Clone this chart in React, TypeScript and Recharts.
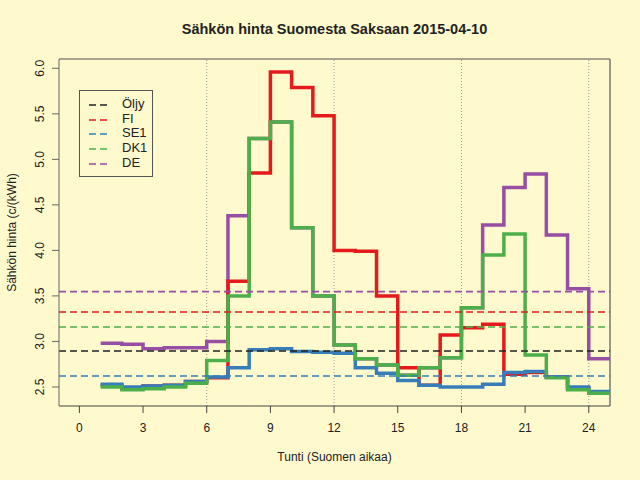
import React from "react";
import {
  Line,
  LineChart,
  ReferenceLine,
  XAxis,
  YAxis,
} from "recharts";

// hours 1..24, each value holds for [h, h+1); last one repeated at 25 to close the step
const HOURS = [1, 2, 3, 4, 5, 6, 7, 8, 9, 10, 11, 12, 13, 14, 15, 16, 17, 18, 19, 20, 21, 22, 23, 24, 25];
const FI = [2.52, 2.49, 2.51, 2.52, 2.56, 2.6, 3.66, 4.85, 5.96, 5.79, 5.48, 4.0, 3.99, 3.5, 2.71, 2.52, 3.07, 3.15, 3.19, 2.64, 2.66, 2.61, 2.49, 2.44, 2.44];
const SE1 = [2.53, 2.5, 2.51, 2.52, 2.56, 2.61, 2.71, 2.91, 2.92, 2.89, 2.88, 2.87, 2.71, 2.65, 2.57, 2.52, 2.5, 2.5, 2.53, 2.66, 2.67, 2.61, 2.5, 2.45, 2.45];
const DK1 = [2.5, 2.47, 2.48, 2.5, 2.54, 2.79, 3.5, 5.23, 5.41, 4.25, 3.5, 2.96, 2.81, 2.74, 2.63, 2.71, 2.82, 3.37, 3.95, 4.18, 2.85, 2.6, 2.47, 2.43, 2.43];
const DE = [2.98, 2.97, 2.92, 2.93, 2.93, 3.0, 4.38, 5.23, 5.41, 4.25, 3.5, 2.96, 2.81, 2.74, 2.63, 2.71, 2.82, 3.37, 4.28, 4.69, 4.84, 4.17, 3.58, 2.81, 2.81];

// daily averages (dashed lines)
const AVG_NAMES = ["Öljy", "FI", "SE1", "DK1", "DE"];
const AVG_VALUES = [2.895, 3.324, 2.621, 3.159, 3.547];
const COLORS = ["#222222", "#e41a1c", "#377eb8", "#4daf4a", "#984ea3"];

const X_TICKS = [0, 3, 6, 9, 12, 15, 18, 21, 24];
const Y_TICKS = [2.5, 3.0, 3.5, 4.0, 4.5, 5.0, 5.5, 6.0];
const V_LINES = [6, 12, 18, 24];

const FONT = "'Liberation Sans', Arial, Helvetica, sans-serif";
const BG = "#fffacd";

const data = HOURS.map((h, i) => ({
  hour: h,
  FI: FI[i],
  SE1: SE1[i],
  DK1: DK1[i],
  DE: DE[i],
}));

const YTick = (props: any) => {
  const { y, payload } = props;
  return (
    <text
      x={0}
      y={0}
      transform={`translate(44,${y}) rotate(-90)`}
      textAnchor="middle"
      fontSize={12}
      fill="#222"
      fontFamily={FONT}
    >
      {Number(payload.value).toFixed(1)}
    </text>
  );
};

const LegendBox = () => (
  <div
    style={{
      position: "absolute",
      left: 79,
      top: 90,
      width: 74,
      height: 87,
      border: "1px solid #555",
      boxSizing: "border-box",
      fontSize: 13,
      color: "#222",
    }}
  >
    {AVG_NAMES.map((n, i) => (
      <React.Fragment key={n}>
        <svg
          width={22}
          height={6}
          style={{ position: "absolute", left: 9, top: 11 + i * 14.7 }}
        >
          <line
            x1={0}
            y1={3}
            x2={20}
            y2={3}
            stroke={COLORS[i]}
            strokeWidth={1.6}
            strokeDasharray="7 4"
          />
        </svg>
        <span
          style={{
            position: "absolute",
            left: 42,
            top: 6 + i * 14.7,
            lineHeight: "14px",
          }}
        >
          {n}
        </span>
      </React.Fragment>
    ))}
  </div>
);

export default function App() {
  return (
    <div
      style={{
        position: "absolute",
        left: 0,
        top: 0,
        width: 640,
        height: 480,
        background: BG,
        fontFamily: FONT,
      }}
    >
      <div
        style={{
          position: "absolute",
          top: 21,
          left: 59,
          width: 551,
          textAlign: "center",
          fontWeight: "bold",
          fontSize: 14.5,
          color: "#222",
        }}
      >
        Sähkön hinta Suomesta Saksaan 2015-04-10
      </div>
      <LineChart
        width={640}
        height={480}
        data={data}
        margin={{ top: 59, right: 30, left: 0, bottom: 0 }}
      >
        <XAxis
          dataKey="hour"
          type="number"
          domain={[-0.96, 25]}
          allowDataOverflow
          ticks={X_TICKS}
          interval={0}
          height={74}
          tickSize={7}
          tickMargin={10}
          stroke="#444"
          tick={{ fontSize: 12, fill: "#222", fontFamily: FONT }}
          label={() => (
            <text x={334.5} y={461} textAnchor="middle" fontSize={12} fill="#222" fontFamily={FONT}>
              Tunti (Suomen aikaa)
            </text>
          )}
        />
        <YAxis
          type="number"
          domain={[2.291, 6.102]}
          allowDataOverflow
          ticks={Y_TICKS}
          interval={0}
          width={59}
          tickSize={7}
          stroke="#666"
          tick={<YTick />}
          label={() => (
            <text
              x={0}
              y={0}
              transform="translate(16,232.5) rotate(-90)"
              textAnchor="middle"
              fontSize={12}
              fill="#222"
              fontFamily={FONT}
            >
              Sähkön hinta (c/(kWh)
            </text>
          )}
        />
        {V_LINES.map((x) => (
          <ReferenceLine key={x} x={x} stroke="#999" strokeDasharray="1 2" />
        ))}
        <ReferenceLine y={6.102} stroke="#a8a290" strokeWidth={2} />
        <ReferenceLine x={25} stroke="#777" strokeWidth={1.5} />
        <Line dataKey="DE" type="stepAfter" stroke={COLORS[4]} strokeWidth={3.5} dot={false} isAnimationActive={false} />
        <Line dataKey="FI" type="stepAfter" stroke={COLORS[1]} strokeWidth={3.5} dot={false} isAnimationActive={false} />
        <Line dataKey="SE1" type="stepAfter" stroke={COLORS[2]} strokeWidth={3.5} dot={false} isAnimationActive={false} />
        <Line dataKey="DK1" type="stepAfter" stroke={COLORS[3]} strokeWidth={3.5} dot={false} isAnimationActive={false} />
        {AVG_VALUES.map((v, i) => (
          <ReferenceLine
            key={AVG_NAMES[i]}
            y={v}
            stroke={COLORS[i]}
            strokeWidth={1.6}
            strokeDasharray="7 4"
          />
        ))}
      </LineChart>
      <LegendBox />
    </div>
  );
}
